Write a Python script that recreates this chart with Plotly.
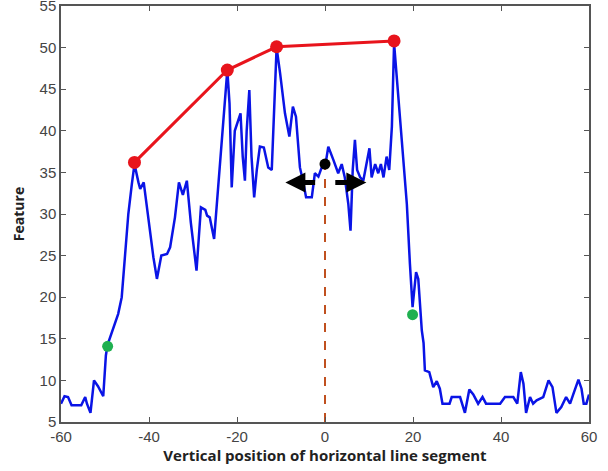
import plotly.graph_objects as go

# Blue feature profile
profile_x = [-60, -59.2, -58.4, -57.6, -55.4, -54.5, -54.1, -53.3, -52.5, -51.6, -50.4, -49.8, -49.4,
             -48.1, -47.0, -46.2, -45.5, -44.7, -43.9, -43.3, -42.4, -42.0, -41.2, -40.1, -39.0, -38.2,
             -37.2, -35.9, -35.2, -34.1, -33.2, -32.3, -31.4, -30.5, -29.2, -28.2, -27.2, -26.8, -26.2,
             -25.2, -24.2, -23.1, -22.2, -21.7, -21.2, -20.5, -19.7, -19.2, -18.7, -18.2, -17.8, -17.2,
             -16.7, -16.1, -15.5, -14.8, -13.9, -12.9, -12.1, -11.7, -11.0, -10.2, -9.1, -8.1, -7.3,
             -6.6, -5.7, -4.9, -4.3, -3.0, -2.3, -1.5, -0.75, 0.0, 0.75, 1.9, 3.0, 3.8, 4.5, 5.3, 5.8,
             6.3, 6.8, 7.3, 8.0, 8.7, 9.5, 10.1, 10.6, 11.4, 12.1, 12.7, 13.3, 14.0, 14.6, 15.2, 15.7,
             16.3, 17.0, 17.8, 18.6, 19.3, 19.9, 20.7, 21.2, 22.0, 22.4, 22.7, 23.7, 24.6, 25.4, 26.1,
             26.7, 28.3, 28.8, 30.7, 31.8, 32.8, 33.7, 34.8, 35.8, 36.6, 39.8, 40.9, 42.8, 43.7, 44.5,
             45.1, 45.7, 46.6, 47.3, 48.1, 49.6, 50.8, 51.7, 52.6, 53.7, 54.8, 55.7, 56.4, 57.6, 58.3,
             58.8, 59.4, 60.0]
profile_y = [7.2, 8.1, 8.0, 7.0, 7.0, 8.0, 7.2, 6.1, 10.0, 9.3, 8.1, 13.0, 14.3,
             16.2, 18.0, 20.0, 25.2, 30.0, 33.6, 36.0, 33.8, 33.0, 33.8, 29.0, 24.8, 22.2,
             25.0, 25.2, 26.0, 29.6, 33.8, 32.3, 34.0, 29.0, 23.2, 30.8, 30.5, 29.8, 29.6,
             27.0, 34.0, 41.3, 47.3, 43.3, 33.2, 40.0, 41.3, 42.1, 36.9, 34.0, 40.0, 44.9,
             36.9, 32.0, 35.3, 38.1, 38.0, 35.6, 35.3, 40.0, 50.0, 46.9, 42.1, 39.3, 42.9,
             41.7, 35.6, 33.7, 32.0, 32.0, 34.9, 34.5, 35.6, 35.6, 38.1, 36.5, 34.9, 36.0, 34.4, 31.2, 28.0,
             35.3, 38.9, 35.3, 34.4, 34.0, 36.0, 37.9, 34.4, 36.0, 34.9, 36.0, 34.4, 36.9, 35.3, 40.5, 50.5,
             46.5, 41.7, 37.3, 31.2, 24.0, 18.8, 23.0, 22.2, 16.0, 14.5, 11.2, 11.0, 9.2, 9.9, 9.0,
             7.2, 7.2, 8.0, 8.0, 6.1, 8.9, 8.3, 7.2, 8.0, 7.2, 7.2, 8.0, 8.0, 7.2, 11.0,
             9.6, 6.1, 8.0, 7.2, 7.6, 8.0, 10.0, 9.2, 6.1, 6.8, 8.0, 7.2, 8.3, 10.1, 9.0,
             7.2, 7.2, 8.3]

# Red upper envelope
peak_x = [-43.3, -22.2, -11.0, 15.7]
peak_y = [36.2, 47.3, 50.1, 50.8]

# Green edge points
edge_x = [-49.4, 19.9]
edge_y = [14.1, 17.9]

# Black centre point
center_x = [0]
center_y = [36]

# Arrows (tail x, head x, y)
arrow_tail_x = [-1.9, 2.0]
arrow_head_x = [-9.0, 9.4]
arrow_y = [33.8, 33.8]

x_ticks = [-60, -40, -20, 0, 20, 40, 60]
x_tick_labels = ["-60", "-40", "-20", "0", "20", "40", "60"]
y_ticks = [5, 10, 15, 20, 25, 30, 35, 40, 45, 50, 55]
y_tick_labels = ["5", "10", "15", "20", "25", "30", "35", "40", "45", "50", "55"]

fig = go.Figure()

fig.add_trace(go.Scatter(x=[center_x[0], center_x[0]], y=[5, center_y[0]], mode="lines",
                         line=dict(color="#c0501f", width=2, dash="dash"), hoverinfo="skip"))
fig.add_trace(go.Scatter(x=profile_x, y=profile_y, mode="lines",
                         line=dict(color="#0a14e6", width=2.5)))
fig.add_trace(go.Scatter(x=peak_x, y=peak_y, mode="lines+markers",
                         line=dict(color="#e8141c", width=3),
                         marker=dict(color="#e8141c", size=13)))
fig.add_trace(go.Scatter(x=edge_x, y=edge_y, mode="markers",
                         marker=dict(color="#1fb050", size=11)))
fig.add_trace(go.Scatter(x=center_x, y=center_y, mode="markers",
                         marker=dict(color="black", size=11)))

for tx, hx, yy in zip(arrow_tail_x, arrow_head_x, arrow_y):
    fig.add_annotation(x=hx, y=yy, ax=tx, ay=yy, xref="x", yref="y", axref="x", ayref="y",
                       showarrow=True, arrowhead=2, arrowsize=0.8, arrowwidth=5,
                       arrowcolor="black", text="", standoff=0, startstandoff=0)

axis_common = dict(showline=True, linecolor="#555555", linewidth=1.5, mirror="ticks",
                   ticks="inside", ticklen=5, tickcolor="#555555", showgrid=False, zeroline=False,
                   automargin=False, ticklabeloverflow="allow",
                   tickfont=dict(family="Liberation Sans, Arial", size=15, color="#444444"))

fig.update_layout(
    width=608, height=471,
    margin=dict(l=61, r=19, t=6, b=49),
    paper_bgcolor="white", plot_bgcolor="white",
    showlegend=False,
    xaxis=dict(range=[-60, 60], tickvals=x_ticks, ticktext=x_tick_labels,
               title=dict(text="<b>Vertical position of horizontal line segment</b>",
                          font=dict(family="Open Sans", size=15, color="#222222"), standoff=6),
               **axis_common),
    yaxis=dict(range=[5, 55], tickvals=y_ticks, ticktext=y_tick_labels,
               title=dict(text="<b>Feature</b>",
                          font=dict(family="Open Sans", size=14, color="#222222"), standoff=12),
               **axis_common),
)

fig.write_html("out.html", config={"displayModeBar": False},
               post_script="document.body.style.margin='0';")
